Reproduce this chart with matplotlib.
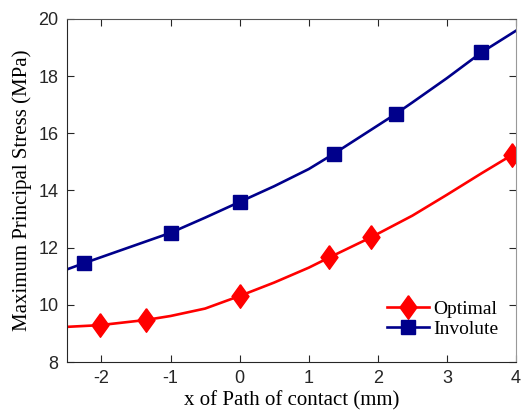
import matplotlib
matplotlib.use('Agg')
import matplotlib.pyplot as plt

# curve
x_opt = [-2.5, -2.02, -1.36, -1.0, -0.5, 0.0, 0.5, 1.0, 1.30, 1.90, 2.5, 3.0, 3.5, 3.94]
y_opt = [9.23, 9.29, 9.47, 9.61, 9.87, 10.31, 10.78, 11.30, 11.66, 12.36, 13.12, 13.85, 14.60, 15.24]
mk_opt = [1, 2, 5, 8, 9, 13]

x_inv = [-2.5, -2.25, -1.0, -0.5, 0.0, 0.5, 1.0, 1.36, 2.26, 2.5, 3.0, 3.5, 4.0]
y_inv = [11.24, 11.46, 12.52, 13.05, 13.60, 14.15, 14.75, 15.28, 16.68, 17.08, 17.93, 18.83, 19.59]
mk_inv = [1, 2, 4, 7, 8, 11]

xticks = [-2, -1, 0, 1, 2, 3, 4]
yticks = [8, 10, 12, 14, 16, 18, 20]

plt.rcParams['axes.unicode_minus'] = False

# matlab style diamond, a bit wider than matplotlib's 'd'
diamond = [(0, 1), (0.72, 0), (0, -1), (-0.72, 0), (0, 1)]

fig = plt.figure(figsize=(5.23, 4.19), dpi=100)
ax = fig.add_axes([0.128, 0.136, 0.8586, 0.8187])

ax.plot(x_opt, y_opt, color='#ff0000', lw=1.9, marker=diamond, markersize=17,
        markevery=mk_opt, label='Optimal')
ax.plot(x_inv, y_inv, color='#00008b', lw=1.9, marker='s', markersize=10,
        markevery=mk_inv, label='Involute')

ax.set_xlim(-2.5, 4)
ax.set_ylim(8, 20)
ax.set_xticks(xticks)
ax.set_yticks(yticks)
ax.tick_params(direction='in', top=True, right=True, length=5, width=0.8,
               labelsize=13, colors='#262626', pad=6)
for lab in ax.get_xticklabels() + ax.get_yticklabels():
    lab.set_family(['Liberation Sans', 'DejaVu Sans'])
for s in ax.spines.values():
    s.set_color('#262626')
    s.set_linewidth(0.8)
ax.spines['top'].set_color('#555555')
ax.spines['right'].set_color('#999999')

ax.set_xlabel('x of Path of contact (mm)', family='Liberation Serif', fontsize=15, labelpad=3)
ax.set_ylabel('Maximum Principal Stress (MPa)', family='Liberation Serif', fontsize=15, labelpad=5)

leg = ax.legend(loc='lower right', frameon=False, prop={'family': 'Liberation Serif', 'size': 14},
                handlelength=2.2, handletextpad=0.2, labelspacing=0.1,
                bbox_to_anchor=(1.0, 0.02))

fig.savefig('out.png', dpi=100)
